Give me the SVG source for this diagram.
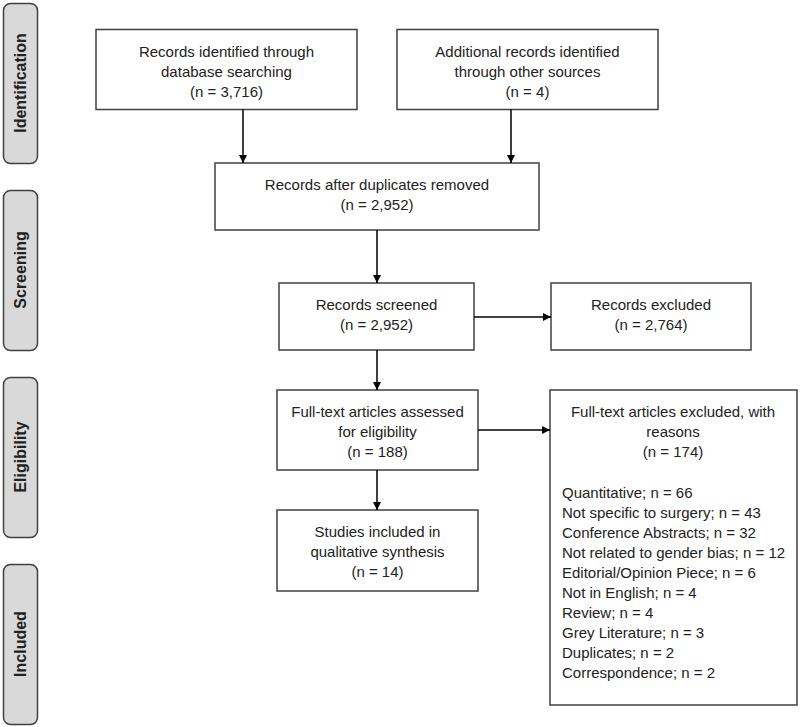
<svg xmlns="http://www.w3.org/2000/svg" width="800" height="727" viewBox="0 0 800 727">
<style>
.phase rect{fill:#d9d9d9;stroke:#404040;stroke-width:1.5}
.phase text{font-family:"Liberation Sans",Arial,sans-serif;font-size:16px;font-weight:bold;fill:#222;text-anchor:middle}
.box rect{fill:#fff;stroke:#404040;stroke-width:1.5}
.box text{font-family:"Liberation Sans",Arial,sans-serif;font-size:15px;fill:#222;text-anchor:middle}
.box text.l{text-anchor:start}
.conn line{stroke:#000;stroke-width:1.5;marker-end:url(#ah)}
</style>
<defs>
<marker id="ah" viewBox="0 0 10 10" refX="10" refY="5" markerWidth="8" markerHeight="8" markerUnits="userSpaceOnUse" orient="auto"><path d="M0,0L10,5L0,10z" fill="#000"/></marker>
</defs>
<rect width="800" height="727" fill="#fff"/>
<g id="phase-identification" class="phase"><rect x="3.5" y="3.5" width="34" height="160" rx="7"/><text transform="translate(26,83) rotate(-90)">Identification</text></g>
<g id="phase-screening" class="phase"><rect x="3.5" y="190.5" width="34" height="160" rx="7"/><text transform="translate(26,270) rotate(-90)">Screening</text></g>
<g id="phase-eligibility" class="phase"><rect x="3.5" y="377.5" width="34" height="160" rx="7"/><text transform="translate(26,457) rotate(-90)">Eligibility</text></g>
<g id="phase-included" class="phase"><rect x="3.5" y="564.5" width="34" height="160" rx="7"/><text transform="translate(26,644) rotate(-90)">Included</text></g>

<g id="n-db" class="box"><rect x="96" y="29.5" width="261" height="80"/><text x="226.5" y="57">Records identified through</text><text x="226.5" y="77">database searching</text><text x="226.5" y="97">(n = 3,716)</text></g>
<g id="n-other" class="box"><rect x="397" y="29.5" width="261" height="80"/><text x="527.5" y="57">Additional records identified</text><text x="527.5" y="77">through other sources</text><text x="527.5" y="97">(n = 4)</text></g>
<g id="n-dup" class="box"><rect x="215" y="163" width="324" height="67"/><text x="377" y="190">Records after duplicates removed</text><text x="377" y="210">(n = 2,952)</text></g>
<g id="n-screened" class="box"><rect x="279" y="283" width="195" height="67"/><text x="376.5" y="310">Records screened</text><text x="376.5" y="330">(n = 2,952)</text></g>
<g id="n-excl" class="box"><rect x="551" y="283" width="200" height="67"/><text x="651" y="310">Records excluded</text><text x="651" y="330">(n = 2,764)</text></g>
<g id="n-full" class="box"><rect x="277" y="390" width="201" height="80"/><text x="377.5" y="417">Full-text articles assessed</text><text x="377.5" y="437">for eligibility</text><text x="377.5" y="457">(n = 188)</text></g>
<g id="n-fullexcl" class="box"><rect x="550" y="390" width="247" height="315"/><text x="673" y="417">Full-text articles excluded, with</text><text x="673" y="437">reasons</text><text x="673" y="457">(n = 174)</text>
<text class="l" x="562" y="498">Quantitative; n = 66</text>
<text class="l" x="562" y="518">Not specific to surgery; n = 43</text>
<text class="l" x="562" y="538">Conference Abstracts; n = 32</text>
<text class="l" x="562" y="558">Not related to gender bias; n = 12</text>
<text class="l" x="562" y="578">Editorial/Opinion Piece; n = 6</text>
<text class="l" x="562" y="598">Not in English; n = 4</text>
<text class="l" x="562" y="618">Review; n = 4</text>
<text class="l" x="562" y="638">Grey Literature; n = 3</text>
<text class="l" x="562" y="658">Duplicates; n = 2</text>
<text class="l" x="562" y="678">Correspondence; n = 2</text>
</g>
<g id="n-incl" class="box"><rect x="277" y="510" width="201" height="81"/><text x="377.5" y="537">Studies included in</text><text x="377.5" y="557">qualitative synthesis</text><text x="377.5" y="577">(n = 14)</text></g>

<g id="connectors" class="conn">
<line x1="243" y1="109.5" x2="243" y2="163"/>
<line x1="511" y1="109.5" x2="511" y2="163"/>
<line x1="377" y1="230" x2="377" y2="283"/>
<line x1="474" y1="317" x2="551" y2="317"/>
<line x1="377" y1="350" x2="377" y2="390"/>
<line x1="478" y1="430" x2="550" y2="430"/>
<line x1="377" y1="470" x2="377" y2="510"/>
</g>
</svg>
